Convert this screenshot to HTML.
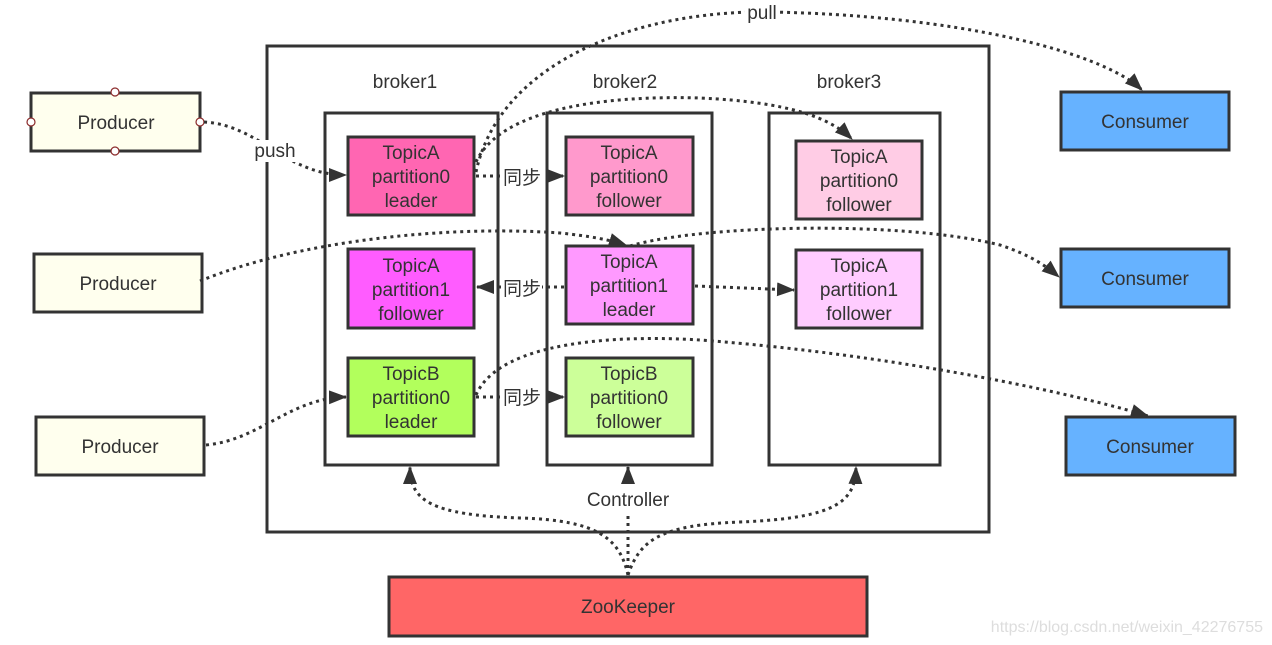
<!DOCTYPE html>
<html><head><meta charset="utf-8"><style>
html,body{margin:0;padding:0;background:#fff;width:1272px;height:645px;overflow:hidden}
svg{display:block}
text{font-family:"Liberation Sans Narrow","Liberation Sans","Noto Sans CJK SC",sans-serif;fill:#333;font-size:19px}
</style></head><body>
<svg width="1272" height="645" viewBox="0 0 1272 645" xmlns="http://www.w3.org/2000/svg">
<defs>
<marker id="ar" markerUnits="userSpaceOnUse" markerWidth="20" markerHeight="16" refX="17" refY="7" orient="auto">
<path d="M0,0 L18,7 L0,14 Z" fill="#333"/>
</marker>
</defs>
<g stroke="#333" stroke-width="3" fill="none">
<rect x="267" y="46" width="722" height="486"/>
<rect x="325" y="113" width="173" height="352"/>
<rect x="547" y="113" width="165" height="352"/>
<rect x="769" y="113" width="171" height="352"/>
</g>
<text x="405" y="88" text-anchor="middle">broker1</text>
<text x="625" y="88" text-anchor="middle">broker2</text>
<text x="849" y="88" text-anchor="middle">broker3</text>

<g stroke="#333" stroke-width="3">
<rect x="348" y="137" width="126" height="78" fill="#ff66b2"/>
<rect x="348" y="249" width="126" height="79" fill="#ff5cff"/>
<rect x="348" y="358" width="126" height="78" fill="#b2ff5c"/>
<rect x="566" y="137" width="127" height="78" fill="#ff99cc"/>
<rect x="566" y="246" width="127" height="78" fill="#ff99ff"/>
<rect x="566" y="358" width="127" height="78" fill="#ccff99"/>
<rect x="796" y="141" width="126" height="78" fill="#ffcce5"/>
<rect x="796" y="250" width="126" height="78" fill="#ffccff"/>
<rect x="31" y="93" width="169" height="58" fill="#ffffee"/>
<rect x="34" y="254" width="168" height="58" fill="#ffffee"/>
<rect x="36" y="417" width="168" height="58" fill="#ffffee"/>
<rect x="1061" y="92" width="168" height="58" fill="#66b2ff"/>
<rect x="1061" y="249" width="168" height="58" fill="#66b2ff"/>
<rect x="1066" y="417" width="169" height="58" fill="#66b2ff"/>
<rect x="389" y="577" width="478" height="59" fill="#ff6666"/>
</g>
<g fill="#fff" stroke="#8b2a2a" stroke-width="1.2">
<circle cx="115" cy="92" r="4"/><circle cx="115" cy="151" r="4"/>
<circle cx="31" cy="122" r="4"/><circle cx="200" cy="122" r="4"/>
</g>

<g stroke="#333" stroke-width="3" stroke-dasharray="3 4" fill="none" marker-end="url(#ar)">
<path d="M204,122 C260,125 285,175 346,175"/>
<path d="M476,172 C500,60 640,10 770,12 C950,15 1100,50 1142,90"/>
<path d="M476,162 C500,110 600,95 700,98 C790,102 830,118 852,139"/>
<path d="M476,176 L564,176"/>
<path d="M200,281 C300,240 450,225 560,233 C590,236 610,240 626,245"/>
<path d="M630,246 C700,225 900,220 1000,245 C1030,255 1045,265 1059,277"/>
<path d="M564,287 L477,287"/>
<path d="M695,286 L794,290"/>
<path d="M206,445 C260,440 290,398 346,397"/>
<path d="M476,397 L564,397"/>
<path d="M476,395 C500,340 620,335 700,340 C900,355 1080,395 1148,416"/>
<path d="M628,575 C620,540 600,520 520,518 C430,515 410,500 410,467"/>
<path d="M628,575 L628,467"/>
<path d="M628,575 C640,540 660,525 740,522 C840,518 855,500 856,467"/>
</g>

<g>
<rect x="252" y="140" width="46" height="22" fill="#fff"/>
<text x="275" y="157" text-anchor="middle">push</text>
<rect x="745" y="2" width="34" height="22" fill="#fff"/>
<text x="762" y="19" text-anchor="middle">pull</text>
<rect x="502" y="166" width="40" height="22" fill="#fff"/>
<text x="522" y="184" text-anchor="middle">同步</text>
<rect x="502" y="277" width="40" height="22" fill="#fff"/>
<text x="522" y="295" text-anchor="middle">同步</text>
<rect x="502" y="386" width="40" height="22" fill="#fff"/>
<text x="522" y="404" text-anchor="middle">同步</text>
<rect x="585" y="488" width="86" height="24" fill="#fff"/>
<text x="628" y="506" text-anchor="middle">Controller</text>
</g>

<g text-anchor="middle">
<text x="411" y="159">TopicA</text><text x="411" y="183">partition0</text><text x="411" y="207">leader</text>
<text x="411" y="272">TopicA</text><text x="411" y="296">partition1</text><text x="411" y="320">follower</text>
<text x="411" y="380">TopicB</text><text x="411" y="404">partition0</text><text x="411" y="428">leader</text>
<text x="629" y="159">TopicA</text><text x="629" y="183">partition0</text><text x="629" y="207">follower</text>
<text x="629" y="268">TopicA</text><text x="629" y="292">partition1</text><text x="629" y="316">leader</text>
<text x="629" y="380">TopicB</text><text x="629" y="404">partition0</text><text x="629" y="428">follower</text>
<text x="859" y="163">TopicA</text><text x="859" y="187">partition0</text><text x="859" y="211">follower</text>
<text x="859" y="272">TopicA</text><text x="859" y="296">partition1</text><text x="859" y="320">follower</text>
<text x="116" y="129">Producer</text>
<text x="118" y="290">Producer</text>
<text x="120" y="453">Producer</text>
<text x="1145" y="128">Consumer</text>
<text x="1145" y="285">Consumer</text>
<text x="1150" y="453">Consumer</text>
<text x="628" y="613">ZooKeeper</text>
</g>
<text x="1263" y="632" text-anchor="end" style="fill:#ddd;font-size:16px">https://blog.csdn.net/weixin_42276755</text>
</svg>
</body></html>
